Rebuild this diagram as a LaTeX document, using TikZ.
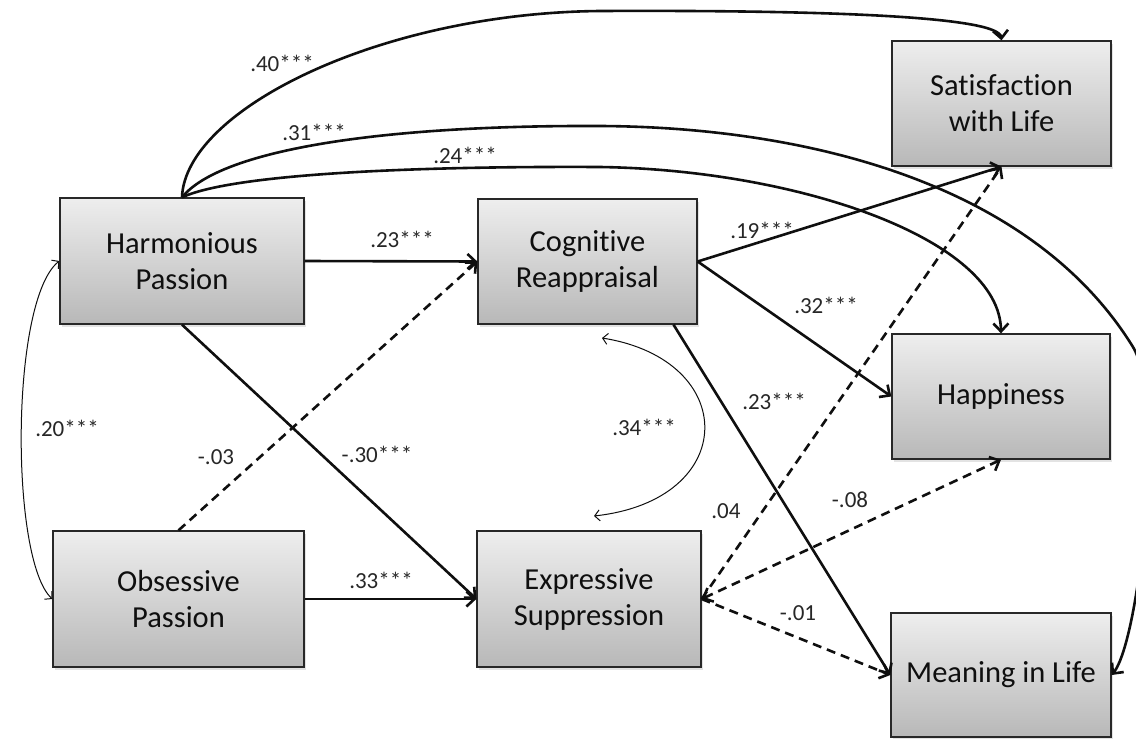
\documentclass[tikz,border=0pt]{standalone}
\usepackage{fontspec}
\setmainfont[Ligatures=NoCommon]{Carlito}
\usetikzlibrary{arrows.meta,shadows,calc}
\definecolor{boxtop}{RGB}{238,238,238}
\definecolor{boxbot}{RGB}{184,184,184}
\definecolor{boxline}{RGB}{40,40,40}
\definecolor{ink}{RGB}{15,15,15}
\begin{document}
\begin{tikzpicture}[x=1pt,y=-1pt,
  box/.style={draw=boxline, line width=1.3pt, top color=boxtop, bottom color=boxbot,
    drop shadow={opacity=0.22, shadow xshift=2pt, shadow yshift=-3pt},
    align=center, inner sep=0pt, text=ink, font=\fontsize{30.5}{36}\selectfont},
  lnk/.style={draw=ink, line width=2.6pt, -{Straight Barb[length=8pt,width=15pt]}},
  dlnk/.style={lnk, dash pattern=on 9pt off 6pt},
  both/.style={{Straight Barb[length=8pt,width=15pt]}-{Straight Barb[length=8pt,width=15pt]}},
  cor/.style={draw=ink, line width=1pt,
    {Straight Barb[length=5pt,width=11pt]}-{Straight Barb[length=5pt,width=11pt]}},
  lbl/.style={font=\fontsize{23}{27}\selectfont, text=ink!90, inner sep=0pt}]

\clip (0,0) rectangle (1136,739);
\fill[white] (0,0) rectangle (1136,739);

% variables
\node[box, minimum width=244pt, minimum height=126pt] (hp)  at (182,261)   {Harmonious\\Passion};
\node[box, minimum width=251pt, minimum height=136pt] (op)  at (178.5,599) {Obsessive\\Passion};
\node[box, minimum width=219pt, minimum height=125pt] (cr)  at (587.5,261.5) {Cognitive\\Reappraisal};
\node[box, minimum width=224pt, minimum height=136pt] (es)  at (589,599)   {Expressive\\Suppression};
\node[box, minimum width=219pt, minimum height=125pt] (swl) at (1001.5,103.5) {Satisfaction\\with Life};
\node[box, minimum width=218pt, minimum height=125pt] (hap) at (1001,396.5) {Happiness};
\node[box, minimum width=220pt, minimum height=124pt] (mil) at (1001,675)   {Meaning in Life};

% anchor points off the node centres
\coordinate (crs) at ($(cr.south)+(86,0)$);
\coordinate (ca) at (602,338);
\coordinate (cb) at (594,516);

% direct paths from harmonious passion to the outcomes
\draw[lnk] (hp.north) .. controls (185,110) and (380,13) .. (600,11)
           .. controls (820,10) and (999,16) .. (swl.north);
\draw[lnk] (hp.north) .. controls (220,150) and (380,125) .. (600,126)
           .. controls (800,127) and (1030,180) .. (1133,347)
           .. controls (1165,400) and (1140,640) .. (mil.east);
\draw[lnk] (hp.north) .. controls (230,175) and (400,166) .. (600,167)
           .. controls (800,170) and (1000,240) .. (hap.north);

% passions to regulation strategies
\draw[lnk]  (hp.east)  -- (cr.west);
\draw[dlnk] (op.north) -- (cr.west);
\draw[lnk]  (hp.south) -- (es.west);
\draw[lnk]  (op.east)  -- (es.west);

% regulation strategies to outcomes
\draw[lnk]  (cr.east) -- (swl.south);
\draw[lnk]  (cr.east) -- (hap.west);
\draw[lnk]  (crs)     -- (mil.west);
\draw[dlnk] (es.east) -- (swl.south);
\draw[dlnk, both] (es.east) -- (hap.south);
\draw[dlnk] (es.east) -- (mil.west);

% correlations
\draw[cor] (op.west) .. controls (10,560) and (10,300) .. (hp.west);
\draw[cor] (ca) .. controls (740,360) and (740,500) .. (cb);

% coefficients
\node[lbl] (l40) at (282,63)  {.40***};
\node[lbl] (l31) at (314,132) {.31***};
\node[lbl] (l24) at (465,155) {.24***};
\node[lbl] (l23a) at (402,239) {.23***};
\node[lbl] (l20) at (67,428)  {.20***};
\node[lbl] (l03) at (216,457) {-.03};
\node[lbl] (l30) at (377,454) {-.30***};
\node[lbl] (l19) at (762,230) {.19***};
\node[lbl] (l32) at (826,305) {.32***};
\node[lbl] (l23b) at (774,401) {.23***};
\node[lbl] (l34) at (644,427) {.34***};
\node[lbl] (l33) at (381,580) {.33***};
\node[lbl] (l04) at (726,511) {.04};
\node[lbl] (l08) at (850,500) {-.08};
\node[lbl] (l01) at (798,613) {-.01};
\end{tikzpicture}
\end{document}
